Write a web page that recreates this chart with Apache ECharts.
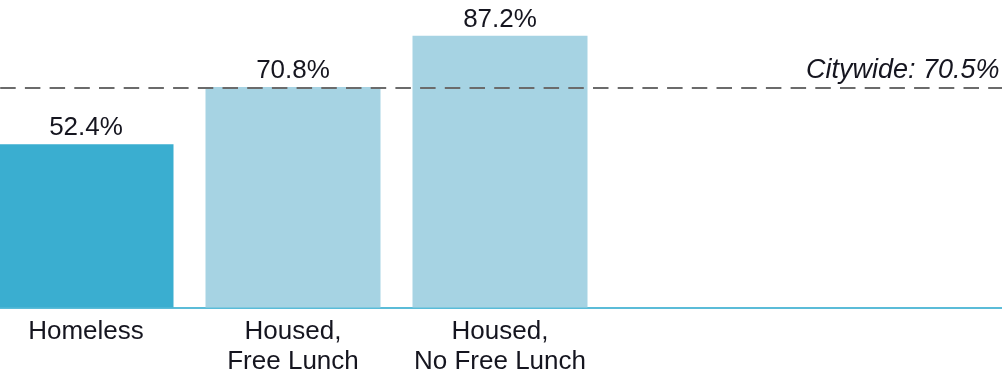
<!DOCTYPE html>
<html>
<head>
<meta charset="utf-8">
<script src="https://cdn.jsdelivr.net/npm/echarts@6/dist/echarts.min.js"></script>
<style>
  html, body { margin: 0; padding: 0; background: #fff; }
  #chart { width: 1002px; height: 371px; }
</style>
</head>
<body>
<div id="chart"></div>
<script>
// Share of students by housing / lunch status, with the citywide rate as a reference line
const categories = ['Homeless', 'Housed,\nFree Lunch', 'Housed,\nNo Free Lunch', '', ''];
const values = [52.4, 70.8, 87.2];
const barColors = ['#3aaed0', '#a6d3e3', '#a6d3e3'];
const citywide = 70.5;
const citywideLabel = 'Citywide';

const FONT = '"Liberation Sans", Arial, sans-serif';

const chart = echarts.init(document.getElementById('chart'), null, { renderer: 'canvas' });

chart.setOption({
  animation: false,
  grid: {
    left: -17.5, top: -4, height: 311.5, width: 1035,
    containLabel: false,
    outerBoundsMode: 'none'
  },
  xAxis: {
    type: 'category',
    data: categories,
    axisLine: { show: true, lineStyle: { color: '#5bbcd8', width: 2 } },
    axisTick: { show: false },
    splitLine: { show: false },
    axisLabel: {
      color: '#15151f',
      fontFamily: FONT,
      fontSize: 26,
      lineHeight: 30,
      margin: 9,
      interval: 0
    }
  },
  yAxis: {
    type: 'value',
    min: 0,
    max: 100,
    show: false,
    splitLine: { show: false }
  },
  series: [{
    type: 'bar',
    barWidth: 175,
    data: values.map((v, i) => ({ value: v, itemStyle: { color: barColors[i] } })),
    label: {
      show: true,
      position: 'top',
      distance: 3,
      color: '#15151f',
      fontFamily: FONT,
      fontSize: 26,
      formatter: p => p.value.toFixed(1) + '%'
    },
    markLine: {
      silent: true,
      symbol: ['none', 'none'],
      lineStyle: { color: '#6b6b6b', type: [15.5, 9.2], dashOffset: 7, width: 2 },
      label: {
        show: true,
        position: 'insideEndTop',
        distance: [18, 4],
        color: '#15151f',
        fontFamily: FONT,
        fontSize: 27,
        fontStyle: 'italic',
        formatter: () => citywideLabel + ': ' + citywide.toFixed(1) + '%'
      },
      data: [{ yAxis: citywide }]
    }
  }]
});
</script>
</body>
</html>
